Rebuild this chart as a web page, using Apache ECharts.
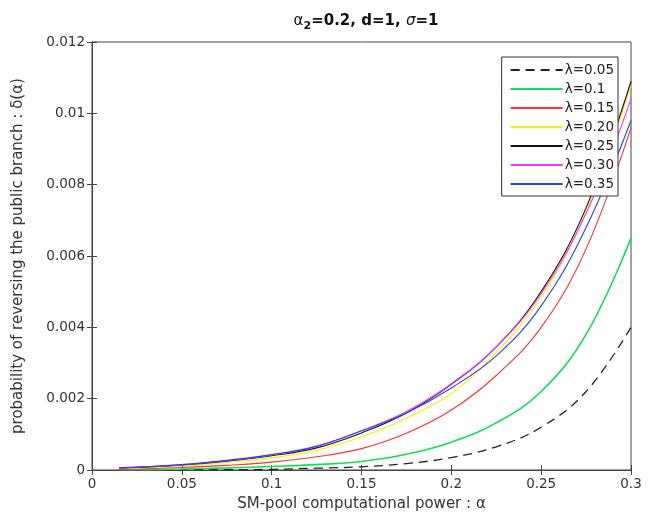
<!DOCTYPE html>
<html>
<head>
<meta charset="utf-8">
<script src="https://cdn.jsdelivr.net/npm/echarts@6/dist/echarts.min.js"></script>
<style>html,body{margin:0;padding:0;background:#fff}#c{width:648px;height:524px}</style>
</head>
<body>
<div id="c"></div>
<script>
var alphas = [0.015, 0.025, 0.05, 0.075, 0.1, 0.125, 0.15, 0.175, 0.2, 0.225, 0.25, 0.275, 0.3];
var lam005 = [0.0, 0.0, 0.00001, 0.00001, 0.00002, 0.00005, 0.00009, 0.00018, 0.00035, 0.00065, 0.0012, 0.0022, 0.0040];
var lam010 = [0.00001, 0.00001, 0.00003, 0.00006, 0.00010, 0.00015, 0.00024, 0.00044, 0.00078, 0.00132, 0.0022, 0.0038, 0.0065];
var lam015 = [0.00002, 0.00003, 0.00007, 0.00013, 0.00022, 0.00037, 0.0006, 0.00103, 0.00168, 0.00265, 0.0040, 0.0062, 0.0096];
var lam020 = [0.00004, 0.00006, 0.00012, 0.00021, 0.00034, 0.00055, 0.00093, 0.00145, 0.00215, 0.0033, 0.00485, 0.00725, 0.0108];
var lam025 = [0.00005, 0.00007, 0.00014, 0.00025, 0.00040, 0.00062, 0.00104, 0.0016, 0.0024, 0.00345, 0.0050, 0.00735, 0.0109];
var lam030 = [0.00005, 0.00008, 0.00015, 0.00026, 0.00042, 0.00066, 0.0011, 0.00164, 0.00242, 0.00345, 0.00495, 0.0072, 0.0104];
var lam035 = [0.00006, 0.00008, 0.00015, 0.00027, 0.00043, 0.00067, 0.0011, 0.0016, 0.0023, 0.0032, 0.0046, 0.0068, 0.0098];

var seriesNames = ['λ=0.05', 'λ=0.1', 'λ=0.15', 'λ=0.20', 'λ=0.25', 'λ=0.30', 'λ=0.35'];
var seriesValues = [lam005, lam010, lam015, lam020, lam025, lam030, lam035];
var seriesColors = ['#222222', '#10e050', '#ff3333', '#ffee00', '#111111', '#ff33ff', '#2244ee'];
var seriesTypes = [[9, 6], 'solid', 'solid', 'solid', 'solid', 'solid', 'solid'];
var seriesWidths = [1.3, 1.6, 1.1, 1.1, 1.1, 1.1, 1.1];

var font = 'DejaVu Sans';
var txt = '#333333';

function pairs(vals) { return alphas.map(function (a, i) { return [a, vals[i]]; }); }

var series = seriesNames.map(function (n, i) {
  return {
    name: n, type: 'line', data: pairs(seriesValues[i]), smooth: 0.4,
    showSymbol: false, symbol: 'none', animation: false,
    lineStyle: { color: seriesColors[i], width: seriesWidths[i], type: seriesTypes[i] },
    itemStyle: { color: seriesColors[i] }
  };
});

var chart = echarts.init(document.getElementById('c'), null, { renderer: 'canvas' });
chart.setOption({
  backgroundColor: '#ffffff',
  animation: false,
  title: {
    text: '{a|α}{s|2}{b|=0.2, d=1, }{c|σ}{b|=1}',
    left: 361, top: 6, textAlign: 'center',
    textStyle: {
      rich: {
        a: { fontFamily: font, fontSize: 15, color: '#111', fontWeight: 'normal' },
        s: { fontFamily: font, fontSize: 11, color: '#111', fontWeight: 'bold', padding: [10, 0, 0, 0] },
        b: { fontFamily: font, fontSize: 15, color: '#111', fontWeight: 'bold' },
        c: { fontFamily: font, fontSize: 15, color: '#111', fontStyle: 'italic', fontWeight: 'normal' }
      }
    }
  },
  grid: { left: 92, right: 17, top: 42, bottom: 54, show: true, borderColor: '#444', borderWidth: 1, backgroundColor: 'transparent' },
  legend: {
    orient: 'vertical', right: 30, top: 57,
    data: seriesNames,
    itemWidth: 52, itemHeight: 10, itemGap: 5,
    itemStyle: { opacity: 0 },
    backgroundColor: '#fff', borderColor: '#333', borderWidth: 1, borderRadius: 0,
    padding: [6, 4, 5, 8],
    textStyle: { fontFamily: font, fontSize: 13.5, color: '#222', padding: [0, 0, 0, -3] }
  },
  xAxis: [{
    type: 'value', min: 0, max: 0.3, interval: 0.05,
    name: 'SM-pool computational power : α', nameLocation: 'middle', nameGap: 27,
    nameTextStyle: { fontFamily: font, fontSize: 15, color: txt },
    axisLine: { show: true, lineStyle: { color: '#444' } },
    axisTick: { show: true, inside: true, length: 5, lineStyle: { color: '#444' } },
    axisLabel: { fontFamily: font, fontSize: 13.5, color: txt, margin: 7 },
    splitLine: { show: false }
  }, {
    type: 'value', min: 0, max: 0.3, interval: 0.05, position: 'top',
    axisLine: { show: true, lineStyle: { color: '#444' } },
    axisTick: { show: true, inside: true, length: 5, lineStyle: { color: '#444' } },
    axisLabel: { show: false }, splitLine: { show: false }
  }],
  yAxis: [{
    type: 'value', min: 0, max: 0.012, interval: 0.002,
    name: 'probability of reversing the public branch : δ(α)', nameLocation: 'middle', nameGap: 66,
    nameTextStyle: { fontFamily: font, fontSize: 15, color: txt },
    axisLine: { show: true, lineStyle: { color: '#444' } },
    axisTick: { show: true, inside: true, length: 5, lineStyle: { color: '#444' } },
    axisLabel: { fontFamily: font, fontSize: 13.5, color: txt, margin: 7 },
    splitLine: { show: false }
  }, {
    type: 'value', min: 0, max: 0.012, interval: 0.002, position: 'right',
    axisLine: { show: true, lineStyle: { color: '#444' } },
    axisTick: { show: true, inside: true, length: 5, lineStyle: { color: '#444' } },
    axisLabel: { show: false }, splitLine: { show: false }
  }],
  series: series
});
</script>
</body>
</html>
